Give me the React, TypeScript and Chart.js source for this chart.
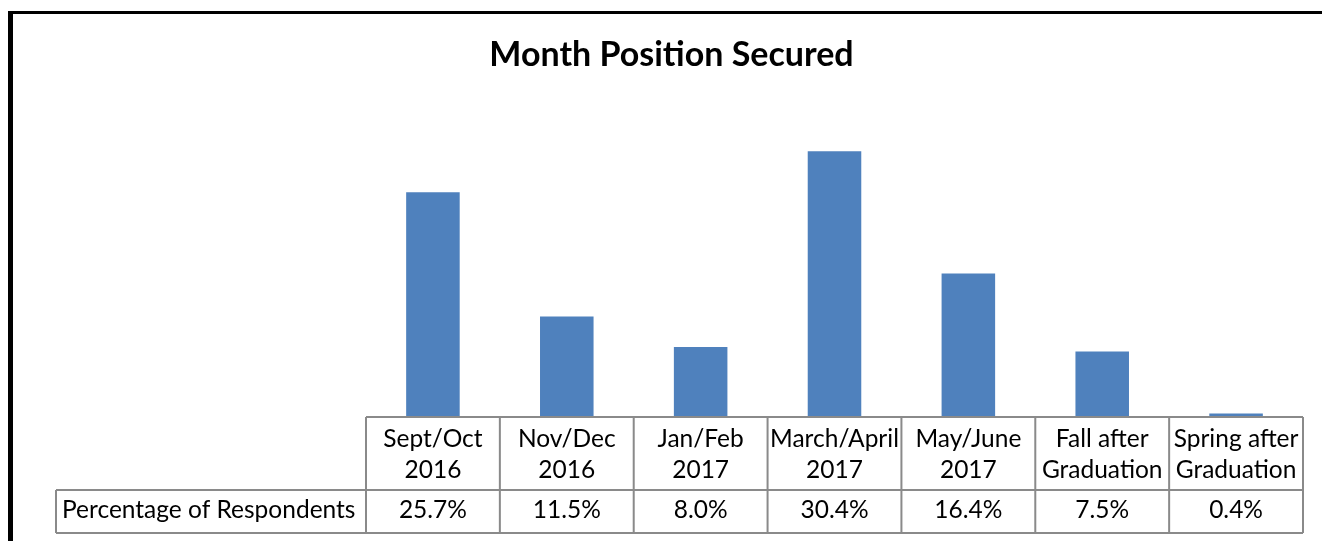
import React, { useEffect, useRef } from "react";
import { Chart, registerables } from "chart.js";

Chart.register(...registerables);

const TITLE = "Month Position Secured";
const categories: string[][] = [
  ["Sept/Oct", "2016"],
  ["Nov/Dec", "2016"],
  ["Jan/Feb", "2017"],
  ["March/April", "2017"],
  ["May/June", "2017"],
  ["Fall after", "Graduation"],
  ["Spring after", "Graduation"],
];
const seriesName = "Percentage of Respondents";
const values: number[] = [25.7, 11.5, 8.0, 30.4, 16.4, 7.5, 0.4];

const FONT = "Lato, 'Open Sans', sans-serif";

const tablePlugin = {
  id: "dataTable",
  afterDraw(chart: any) {
    const ctx = chart.ctx as CanvasRenderingContext2D;
    const area = chart.chartArea;
    const xs = chart.scales.x;
    const n = categories.length;
    const colW = (area.right - area.left) / n;
    const top = area.bottom;
    const mid = top + 73;
    const bottom = top + 116;
    const labelLeft = 56;
    ctx.save();
    // frame
    ctx.fillStyle = "#000";
    ctx.fillRect(8, 11, 1322, 3);
    ctx.fillRect(8, 11, 5, 541);
    // grid
    ctx.strokeStyle = "#8a8a8a";
    ctx.lineWidth = 2;
    ctx.beginPath();
    ctx.moveTo(area.left, top);
    ctx.lineTo(area.right, top);
    ctx.moveTo(labelLeft, mid);
    ctx.lineTo(area.right, mid);
    ctx.moveTo(labelLeft, bottom);
    ctx.lineTo(area.right, bottom);
    ctx.moveTo(labelLeft, mid);
    ctx.lineTo(labelLeft, bottom);
    for (let i = 0; i <= n; i++) {
      const x = area.left + i * colW;
      ctx.moveTo(x, top);
      ctx.lineTo(x, bottom);
    }
    ctx.stroke();
    // text
    ctx.fillStyle = "#000";
    ctx.font = `24.5px ${FONT}`;
    ctx.textBaseline = "alphabetic";
    ctx.textAlign = "center";
    categories.forEach((lines, i) => {
      const cx = xs.getPixelForValue(i);
      ctx.fillText(lines[0], cx, top + 30);
      ctx.fillText(lines[1], cx, top + 61);
      ctx.fillText(values[i].toFixed(1) + "%", cx, top + 101);
    });
    ctx.textAlign = "left";
    ctx.fillText(seriesName, 62, top + 101);
    ctx.restore();
  },
};

export default function App() {
  const ref = useRef<HTMLCanvasElement | null>(null);
  useEffect(() => {
    if (!ref.current) return;
    const chart = new Chart(ref.current, {
      type: "bar",
      data: {
        labels: categories.map((c) => c.join(" ")),
        datasets: [
          {
            label: seriesName,
            data: values,
            backgroundColor: "#4F81BD",
            borderWidth: 0,
            barPercentage: 0.4,
            categoryPercentage: 1,
          },
        ],
      },
      options: {
        responsive: false,
        animation: false,
        layout: { padding: { left: 40, right: 19, top: 0, bottom: 124 } },
        plugins: {
          legend: { display: false },
          tooltip: { enabled: false },
          title: {
            display: true,
            text: TITLE,
            color: "#000",
            font: { family: FONT, size: 34, weight: "bold", lineHeight: 1.2 },
            padding: { top: 35, bottom: 35.2 },
          },
        },
        scales: {
          x: { display: false },
          y: {
            display: true,
            min: 0,
            max: 35,
            ticks: { display: false },
            grid: { display: false },
            border: { display: false },
            afterFit: (s: any) => {
              s.width = 326;
            },
          },
        },
      },
      plugins: [tablePlugin],
    });
    return () => chart.destroy();
  }, []);
  return (
    <div style={{ position: "absolute", left: 0, top: 0, width: 1322, height: 541, background: "#fff" }}>
      <canvas ref={ref} width={1322} height={541} />
    </div>
  );
}
